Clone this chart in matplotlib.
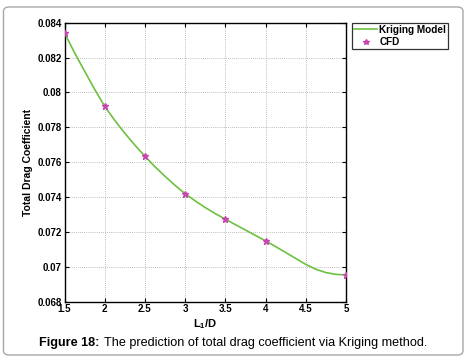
import matplotlib
matplotlib.use("Agg")
import matplotlib.pyplot as plt
from matplotlib.patches import FancyBboxPatch

plt.rcParams['font.family'] = ['Liberation Sans', 'DejaVu Sans']
plt.rcParams['mathtext.fontset'] = 'custom'
plt.rcParams['mathtext.rm'] = 'Liberation Sans:bold'
plt.rcParams['mathtext.bf'] = 'Liberation Sans:bold'
plt.rcParams['mathtext.it'] = 'Liberation Sans:bold'

# Kriging model curve
kriging_x = [1.5, 1.625, 1.75, 1.875, 2.0, 2.125, 2.25, 2.375, 2.5, 2.625, 2.75, 2.875,
             3.0, 3.125, 3.25, 3.375, 3.5, 3.625, 3.75, 3.875, 4.0, 4.125, 4.25, 4.375,
             4.5, 4.625, 4.75, 4.875, 5.0]
kriging_y = [0.08342, 0.08228, 0.08122, 0.08018, 0.0792, 0.0784, 0.07766, 0.07698, 0.07634,
             0.07574, 0.07519, 0.07467, 0.07419, 0.07378, 0.0734, 0.07305, 0.07273,
             0.07242, 0.07211, 0.0718, 0.07149, 0.07116, 0.07082, 0.07048, 0.07014,
             0.06986, 0.06967, 0.06957, 0.06953]
# CFD samples
cfd_x = [1.5, 2.0, 2.5, 3.0, 3.5, 4.0, 5.0]
cfd_y = [0.08342, 0.0792, 0.07634, 0.07419, 0.07273, 0.07149, 0.06953]

xticks = [1.5, 2, 2.5, 3, 3.5, 4, 4.5, 5]
xtick_labels = ['1.5', '2', '2.5', '3', '3.5', '4', '4.5', '5']
yticks = [0.068, 0.07, 0.072, 0.074, 0.076, 0.078, 0.08, 0.082, 0.084]
ytick_labels = ['0.068', '0.07', '0.072', '0.074', '0.076', '0.078', '0.08', '0.082', '0.084']

W, H = 472, 361
fig = plt.figure(figsize=(W / 100, H / 100), dpi=100)

# rounded frame
frame = FancyBboxPatch((3.5 / W, 1 - 355 / H), (463 - 3.5) / W, (355 - 7) / H,
                       boxstyle="round,pad=0,rounding_size=0.012",
                       transform=fig.transFigure, facecolor='none',
                       edgecolor='#a8a8a8', linewidth=1.0, zorder=-1)
fig.patches.append(frame)

ax = fig.add_axes([64.5 / W, 1 - 301.7 / H, (346 - 64.5) / W, (301.7 - 22.7) / H])
ax.set_zorder(2)
ax.plot(kriging_x, kriging_y, color='#6dc040', linewidth=1.2, label='Kriging Model', zorder=3)
ax.plot(cfd_x, cfd_y, linestyle='none', marker='*', markersize=5, color='#c845b0',
        label='CFD', zorder=4)

ax.set_xlim(1.5, 5)
ax.set_ylim(0.068, 0.084)
ax.set_xticks(xticks)
ax.set_xticklabels(xtick_labels)
ax.set_yticks(yticks)
ax.set_yticklabels(ytick_labels)
ax.tick_params(direction='in', top=True, right=True, length=3, width=0.8,
               labelsize=7.0, pad=2)
for lab in ax.get_xticklabels() + ax.get_yticklabels():
    lab.set_fontweight('bold')
ax.grid(True, color='#a8a8a8', linestyle=(0, (1, 1.5)), linewidth=0.6)
for s in ax.spines.values():
    s.set_linewidth(1.0)
    s.set_color('black')

ax.set_xlabel(r'$\mathregular{L_1/D}$', fontsize=8, fontweight='bold', labelpad=2)
ax.set_ylabel('Total Drag Coefficient', fontsize=7.5, fontweight='bold', labelpad=3)

leg = ax.legend(loc='upper left', bbox_to_anchor=(352.3 / W, 1 - 22.7 / H),
                bbox_transform=fig.transFigure, frameon=True, fancybox=False,
                prop={'size': 7.2, 'weight': 'bold'}, borderpad=0.2,
                handlelength=2.3, handletextpad=0.2, labelspacing=0.25, borderaxespad=0,
                markerscale=0.8)
leg.get_frame().set_edgecolor('black')
leg.get_frame().set_linewidth(0.9)

fig.text(39 / W, 1 - 343 / H, 'Figure 18:', fontsize=9.1, fontweight='bold', va='center')
fig.text(104 / W, 1 - 343 / H, 'The prediction of total drag coefficient via Kriging method.',
         fontsize=9.1, va='center')

fig.savefig('out.png', dpi=100)
